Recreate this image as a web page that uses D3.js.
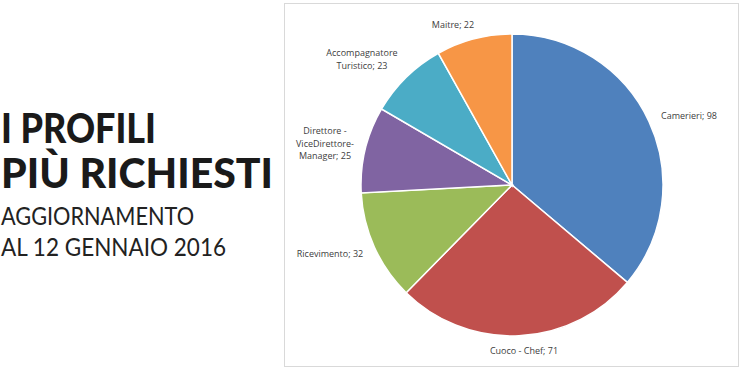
<!DOCTYPE html>
<html>
<head>
<meta charset="utf-8">
<script src="https://cdn.jsdelivr.net/npm/d3@7"></script>
<style>
  body { margin: 0; background: #fff; }
  svg { display: block; }
</style>
</head>
<body>
<div id="chart"></div>
<script>
// chart data
const categories = ["Camerieri", "Cuoco - Chef", "Ricevimento", "Direttore - ViceDirettore- Manager", "Accompagnatore Turistico", "Maitre"];
const values = [98, 71, 32, 25, 23, 22];
const colors = ["#4F81BD", "#C0504D", "#9BBB59", "#8064A2", "#4BACC6", "#F79646"];
// label lines, as broken in the picture
const labelLines = [
    ["Camerieri; 98"],
    ["Cuoco - Chef; 71"],
    ["Ricevimento; 32"],
    ["Direttore -", "ViceDirettore-", "Manager; 25"],
    ["Accompagnatore", "Turistico; 23"],
    ["Maitre; 22"]
];
const titleLines = ["I PROFILI", "PIÙ RICHIESTI"];
const subLines = ["AGGIORNAMENTO", "AL 12 GENNAIO 2016"];

function init() {
    const w = 750, h = 374;
    const svg = d3.select("#chart").append("svg")
        .attr("width", w)
        .attr("height", h);

    // left title block
    const titleWidths = [155, 272];
    svg.selectAll(".title")
        .data(titleLines)
        .enter()
        .append("text")
        .attr("class", "title")
        .attr("x", 1)
        .attr("y", (d, i) => 143 + i * 45)
        .attr("textLength", (d, i) => titleWidths[i])
        .attr("lengthAdjust", "spacingAndGlyphs")
        .style("font-family", "Lato, 'DejaVu Sans', sans-serif")
        .style("font-weight", "900")
        .style("font-size", "41px")
        .style("fill", "#1a1a1a")
        .text(d => d);

    const subWidths = [193, 225];
    svg.selectAll(".sub")
        .data(subLines)
        .enter()
        .append("text")
        .attr("class", "sub")
        .attr("x", 1)
        .attr("y", (d, i) => 225 + i * 31)
        .attr("textLength", (d, i) => subWidths[i])
        .attr("lengthAdjust", "spacingAndGlyphs")
        .style("font-family", "Lato, 'DejaVu Sans', sans-serif")
        .style("font-weight", "400")
        .style("font-size", "25px")
        .style("fill", "#222")
        .text(d => d);

    // chart frame
    svg.append("rect")
        .attr("x", 284.5)
        .attr("y", 3.5)
        .attr("width", 454)
        .attr("height", 363)
        .attr("fill", "#fff")
        .attr("stroke", "#d9d9d9")
        .attr("stroke-width", 1);

    const cx = 512, cy = 185, r = 151;
    const pie = d3.pie().sort(null).value(d => d)(values);
    const arc = d3.arc().innerRadius(0).outerRadius(r);

    const g = svg.append("g")
        .attr("transform", `translate(${cx},${cy})`);

    g.selectAll("path")
        .data(pie)
        .enter()
        .append("path")
        .attr("d", arc)
        .attr("fill", (d, i) => colors[i])
        .attr("stroke", "#fff")
        .attr("stroke-width", 1.5);

    // labels placed outside the slices
    const labelPos = [
        [689, 116], [524, 351], [330, 254], [325, 131], [362, 53], [453, 25]
    ];
    const lab = svg.selectAll(".lab")
        .data(labelLines)
        .enter()
        .append("text")
        .attr("class", "lab")
        .attr("text-anchor", "middle")
        .style("font-family", "'Open Sans', sans-serif")
        .style("font-size", "9px")
        .style("fill", "#404040");

    lab.each(function(lines, i) {
        const t = d3.select(this);
        const x = labelPos[i][0];
        const y0 = labelPos[i][1] + 3;
        lines.forEach((s, j) => {
            t.append("tspan")
                .attr("x", x)
                .attr("y", y0 + j * 12.5)
                .text(s);
        });
    });
}

window.onload = init;
</script>
</body>
</html>
